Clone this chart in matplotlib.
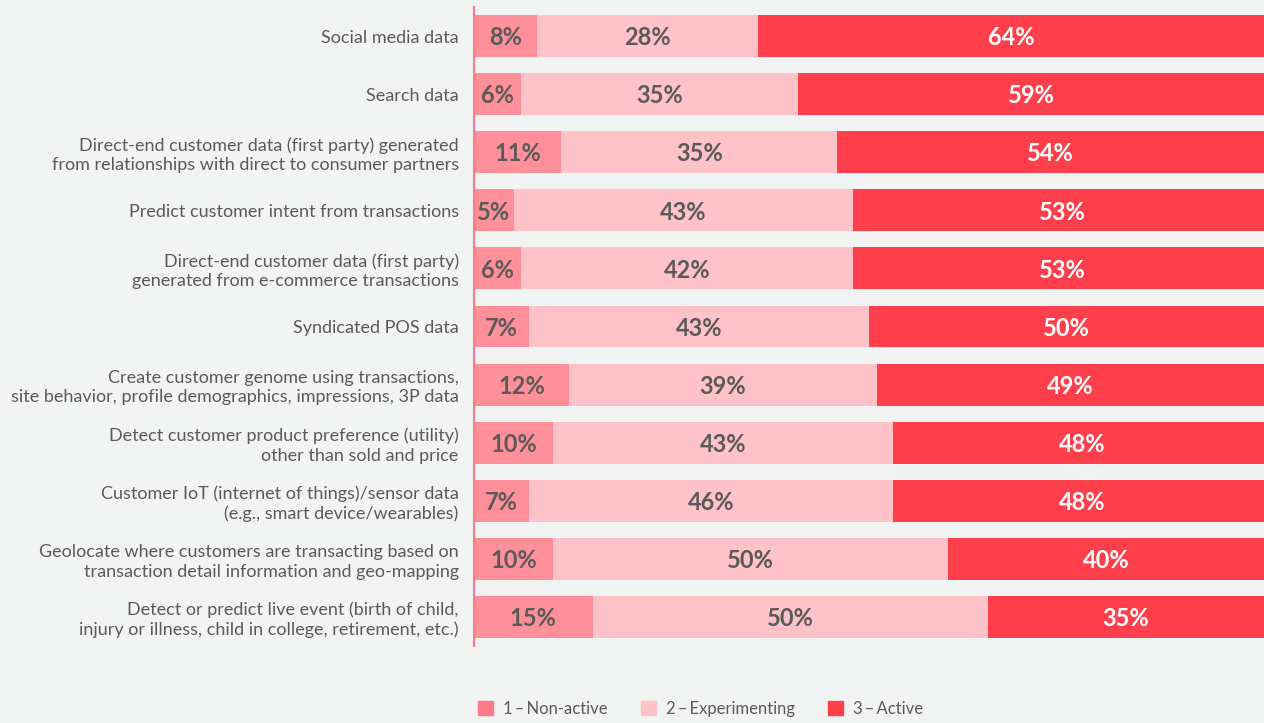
import matplotlib.pyplot as plt
from matplotlib.patches import Patch

categories = [
    "Social media data",
    "Search data",
    "Direct-end customer data (first party) generated\nfrom relationships with direct to consumer partners",
    "Predict customer intent from transactions",
    "Direct-end customer data (first party)\ngenerated from e-commerce transactions",
    "Syndicated POS data",
    "Create customer genome using transactions,\nsite behavior, profile demographics, impressions, 3P data",
    "Detect customer product preference (utility)\nother than sold and price",
    "Customer IoT (internet of things)/sensor data\n(e.g., smart device/wearables)",
    "Geolocate where customers are transacting based on\ntransaction detail information and geo-mapping",
    "Detect or predict live event (birth of child,\ninjury or illness, child in college, retirement, etc.)",
]
non_active = [8, 6, 11, 5, 6, 7, 12, 10, 7, 10, 15]
experimenting = [28, 35, 35, 43, 42, 43, 39, 43, 46, 50, 50]
active = [64, 59, 54, 53, 53, 50, 49, 48, 48, 40, 35]
series_names = ["1\u2009–\u2009Non-active", "2\u2009–\u2009Experimenting", "3\u2009–\u2009Active"]

BG = "#f2f4f3"
TEXT = "#5a5a5a"
bar_colors = ["#ff9099", "#ffc2c8", "#ff3f4c"]
legend_colors = ["#ff7a88", "#ffc2c8", "#ff3f4c"]
label_colors = [TEXT, TEXT, "white"]

plt.rcParams["font.family"] = ["Lato", "DejaVu Sans"]

fig = plt.figure(figsize=(12.64, 7.23), dpi=100, facecolor=BG)
ax = fig.add_axes([474 / 1264, 1 - 646 / 723, 1 - 474 / 1264, 639 / 723])
ax.set_facecolor(BG)

y = list(range(len(categories)))
left = [0] * len(categories)
for values, color, lc in zip([non_active, experimenting, active], bar_colors, label_colors):
    bars = ax.barh(y, values, left=left, height=0.72, color=color, linewidth=0)
    for bar, v in zip(bars, values):
        ax.text(bar.get_x() + bar.get_width() / 2, bar.get_y() + bar.get_height() / 2 + 0.03,
                f"{v}%", ha="center", va="center", fontsize=17, fontweight="bold",
                color=lc)
    left = [a + b for a, b in zip(left, values)]

ax.set_xlim(0, 100)
ax.set_ylim(len(categories) - 0.5, -0.5)
ax.set_yticks(y)
ax.set_yticklabels(categories, fontsize=13, color=TEXT, linespacing=1.25)
ax.tick_params(axis="y", length=0, pad=11)
ax.set_xticks([])
for side in ["top", "right", "bottom"]:
    ax.spines[side].set_visible(False)
ax.spines["left"].set_color("#ff7a88")
ax.spines["left"].set_linewidth(1.5)

handles = [Patch(color=c, label=n) for c, n in zip(legend_colors, series_names)]
fig.legend(handles=handles, loc="center left", bbox_to_anchor=(463 / 1264, 1 - 709 / 723),
           ncol=3, frameon=False, fontsize=12, labelcolor=TEXT, handlelength=0.9,
           handleheight=0.9, handletextpad=0.6, columnspacing=2.0)

fig.savefig("out.png", dpi=100, facecolor=BG)
